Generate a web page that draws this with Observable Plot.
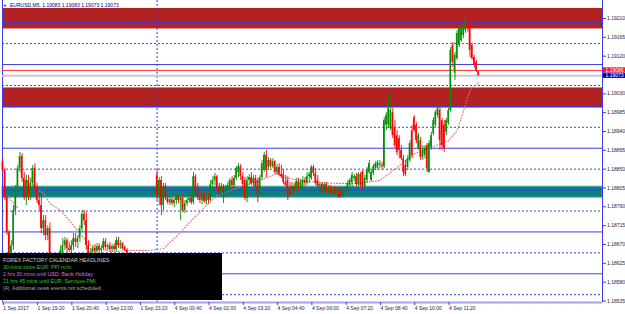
<!DOCTYPE html>
<html><head><meta charset="utf-8">
<script src="https://cdn.jsdelivr.net/npm/d3@7"></script>
<script src="https://cdn.jsdelivr.net/npm/@observablehq/plot@0.6"></script>
<style>
html,body{margin:0;padding:0;background:#fff;}
#chart{width:625px;height:314px;overflow:hidden;}
#chart svg{font-family:"Liberation Sans",Arial,sans-serif;font-size:5px;}
</style>
</head><body><div id="chart"></div>
<script>
// ---- data: EURUSD M5 bars, 1 Sep 2017 18:00 .. 4 Sep 2017 12:30 (bar index 0..222) ----
const opens = [
1.18866,1.18847,1.18782,1.18698,1.18627,1.18667,1.18751,1.18804,1.18852,1.18880,
1.18828,1.18782,1.18823,1.18787,1.18816,1.18852,1.18804,1.18775,1.18763,1.18708,
1.18727,1.18691,1.18708,1.18608,1.18620,1.18584,1.18620,1.18627,1.18636,1.18667,
1.18679,1.18660,1.18656,1.18667,1.18684,1.18675,1.18684,1.18708,1.18742,1.18727,
1.18667,1.18641,1.18651,1.18660,1.18653,1.18665,1.18656,1.18660,1.18677,1.18663,
1.18667,1.18658,1.18665,1.18658,1.18679,1.18667,1.18672,1.18663,1.18656,1.18636,
1.18644,1.18627,1.18636,1.18622,1.18629,1.18627,1.18617,1.18620,1.18603,1.18608,
1.18603,1.18622,1.18835,1.18787,1.18823,1.18763,1.18808,1.18780,1.18770,1.18777,
1.18768,1.18775,1.18785,1.18775,1.18780,1.18751,1.18768,1.18775,1.18780,1.18770,
1.18832,1.18799,1.18785,1.18775,1.18789,1.18773,1.18782,1.18775,1.18813,1.18823,
1.18832,1.18804,1.18794,1.18808,1.18794,1.18804,1.18799,1.18823,1.18811,1.18828,
1.18842,1.18856,1.18832,1.18823,1.18780,1.18823,1.18830,1.18816,1.18828,1.18823,
1.18792,1.18830,1.18847,1.18883,1.18854,1.18871,1.18856,1.18868,1.18842,1.18854,
1.18837,1.18837,1.18818,1.18823,1.18799,1.18789,1.18808,1.18799,1.18820,1.18804,
1.18804,1.18823,1.18816,1.18832,1.18828,1.18854,1.18840,1.18823,1.18808,1.18813,
1.18799,1.18813,1.18794,1.18806,1.18794,1.18804,1.18792,1.18804,1.18794,1.18787,
1.18799,1.18794,1.18811,1.18818,1.18828,1.18832,1.18813,1.18837,1.18844,1.18808,
1.18823,1.18842,1.18823,1.18840,1.18852,1.18852,1.18859,1.18859,1.18856,1.18955,
1.18955,1.18947,1.18985,1.18950,1.18930,1.18923,1.18895,1.18875,1.18859,1.18854,
1.18871,1.18942,1.18973,1.18955,1.18899,1.18918,1.18878,1.18883,1.18906,1.18842,
1.18902,1.18935,1.18955,1.18978,1.18990,1.18966,1.18955,1.18938,1.18959,1.18990,
1.19146,1.19079,1.19114,1.19146,1.19157,1.19169,1.19181,1.19200,1.19193,1.19146,
1.19117,1.19105,1.19083];
const highs = [
1.18875,1.18852,1.18787,1.18703,1.18679,1.18763,1.18811,1.18859,1.18890,1.18887,
1.18842,1.18835,1.18835,1.18828,1.18859,1.18863,1.18816,1.18794,1.18792,1.18739,
1.18739,1.18715,1.18722,1.18627,1.18632,1.18627,1.18636,1.18667,1.18684,1.18687,
1.18684,1.18675,1.18679,1.18696,1.18696,1.18691,1.18715,1.18751,1.18751,1.18746,
1.18679,1.18660,1.18667,1.18670,1.18672,1.18672,1.18667,1.18684,1.18684,1.18672,
1.18675,1.18670,1.18672,1.18687,1.18687,1.18679,1.18675,1.18667,1.18660,1.18651,
1.18648,1.18644,1.18641,1.18636,1.18634,1.18636,1.18627,1.18624,1.18617,1.18627,
1.18632,1.18627,1.18847,1.18830,1.18832,1.18816,1.18816,1.18787,1.18785,1.18782,
1.18780,1.18792,1.18787,1.18785,1.18785,1.18775,1.18780,1.18785,1.18787,1.18842,
1.18837,1.18816,1.18799,1.18794,1.18794,1.18787,1.18789,1.18823,1.18832,1.18840,
1.18835,1.18816,1.18816,1.18813,1.18811,1.18818,1.18828,1.18832,1.18835,1.18856,
1.18863,1.18861,1.18842,1.18830,1.18832,1.18837,1.18842,1.18835,1.18835,1.18828,
1.18835,1.18871,1.18890,1.18895,1.18878,1.18875,1.18875,1.18871,1.18861,1.18863,
1.18859,1.18847,1.18835,1.18832,1.18818,1.18818,1.18816,1.18828,1.18828,1.18825,
1.18832,1.18830,1.18842,1.18842,1.18859,1.18859,1.18852,1.18835,1.18818,1.18818,
1.18818,1.18818,1.18811,1.18811,1.18804,1.18808,1.18806,1.18808,1.18806,1.18804,
1.18808,1.18823,1.18828,1.18842,1.18837,1.18840,1.18842,1.18842,1.18847,1.18835,
1.18854,1.18871,1.18847,1.18861,1.18868,1.18871,1.18871,1.18866,1.18973,1.18985,
1.19031,1.19002,1.18995,1.18966,1.18942,1.18930,1.18906,1.18883,1.18871,1.18883,
1.18918,1.18955,1.18978,1.18961,1.18935,1.18926,1.18906,1.18906,1.18911,1.18918,
1.18938,1.18973,1.18990,1.19007,1.18997,1.18971,1.18966,1.18971,1.18995,1.19141,
1.19153,1.19129,1.19181,1.19193,1.19198,1.19198,1.19215,1.19210,1.19205,1.19150,
1.19122,1.19110,1.19083];
const lows = [
1.18842,1.18775,1.18691,1.18577,1.18608,1.18656,1.18739,1.18794,1.18842,1.18818,
1.18775,1.18763,1.18775,1.18775,1.18804,1.18799,1.18768,1.18751,1.18696,1.18691,
1.18679,1.18679,1.18584,1.18596,1.18572,1.18577,1.18608,1.18620,1.18627,1.18656,
1.18651,1.18651,1.18648,1.18656,1.18663,1.18660,1.18675,1.18698,1.18715,1.18656,
1.18627,1.18632,1.18636,1.18648,1.18646,1.18651,1.18644,1.18656,1.18656,1.18656,
1.18651,1.18651,1.18653,1.18653,1.18660,1.18658,1.18656,1.18653,1.18627,1.18627,
1.18620,1.18617,1.18617,1.18613,1.18608,1.18584,1.18589,1.18596,1.18591,1.18598,
1.18596,1.18608,1.18775,1.18763,1.18739,1.18751,1.18775,1.18765,1.18763,1.18763,
1.18758,1.18765,1.18768,1.18727,1.18746,1.18744,1.18761,1.18768,1.18765,1.18765,
1.18787,1.18775,1.18768,1.18765,1.18768,1.18765,1.18768,1.18773,1.18804,1.18811,
1.18799,1.18787,1.18787,1.18768,1.18785,1.18794,1.18794,1.18804,1.18806,1.18823,
1.18830,1.18823,1.18804,1.18775,1.18770,1.18811,1.18811,1.18808,1.18804,1.18770,
1.18787,1.18823,1.18842,1.18830,1.18847,1.18852,1.18852,1.18837,1.18835,1.18832,
1.18828,1.18813,1.18808,1.18775,1.18782,1.18785,1.18792,1.18794,1.18799,1.18799,
1.18799,1.18808,1.18811,1.18816,1.18823,1.18832,1.18811,1.18804,1.18792,1.18792,
1.18794,1.18792,1.18789,1.18789,1.18789,1.18789,1.18787,1.18780,1.18782,1.18782,
1.18789,1.18789,1.18806,1.18808,1.18820,1.18808,1.18808,1.18804,1.18801,1.18804,
1.18816,1.18837,1.18820,1.18835,1.18847,1.18847,1.18852,1.18847,1.18852,1.18942,
1.18947,1.18942,1.18923,1.18899,1.18883,1.18875,1.18871,1.18832,1.18832,1.18847,
1.18866,1.18875,1.18938,1.18911,1.18895,1.18871,1.18871,1.18875,1.18842,1.18840,
1.18895,1.18930,1.18950,1.18971,1.18895,1.18895,1.18890,1.18930,1.18955,1.18985,
1.19093,1.19062,1.19110,1.19141,1.19153,1.19162,1.19174,1.19177,1.19117,1.19110,
1.19091,1.19081,1.19073];
const closes = [
1.18847,1.18782,1.18698,1.18627,1.18667,1.18751,1.18804,1.18852,1.18880,1.18828,
1.18782,1.18823,1.18787,1.18816,1.18852,1.18804,1.18775,1.18763,1.18708,1.18727,
1.18691,1.18708,1.18608,1.18620,1.18584,1.18620,1.18627,1.18656,1.18667,1.18679,
1.18660,1.18656,1.18667,1.18684,1.18675,1.18684,1.18708,1.18742,1.18727,1.18667,
1.18641,1.18651,1.18660,1.18653,1.18665,1.18656,1.18660,1.18677,1.18663,1.18667,
1.18658,1.18665,1.18658,1.18679,1.18667,1.18672,1.18660,1.18656,1.18636,1.18644,
1.18627,1.18636,1.18622,1.18629,1.18615,1.18593,1.18598,1.18603,1.18613,1.18622,
1.18622,1.18615,1.18787,1.18823,1.18763,1.18808,1.18780,1.18770,1.18777,1.18768,
1.18775,1.18785,1.18775,1.18780,1.18751,1.18768,1.18775,1.18780,1.18770,1.18832,
1.18799,1.18785,1.18775,1.18789,1.18773,1.18782,1.18775,1.18813,1.18823,1.18832,
1.18804,1.18794,1.18808,1.18794,1.18804,1.18811,1.18823,1.18811,1.18828,1.18852,
1.18856,1.18832,1.18813,1.18780,1.18823,1.18830,1.18816,1.18828,1.18808,1.18792,
1.18830,1.18863,1.18883,1.18847,1.18871,1.18856,1.18868,1.18842,1.18854,1.18837,
1.18832,1.18818,1.18811,1.18787,1.18789,1.18808,1.18799,1.18820,1.18804,1.18818,
1.18823,1.18816,1.18832,1.18837,1.18854,1.18840,1.18816,1.18808,1.18813,1.18799,
1.18813,1.18794,1.18804,1.18794,1.18799,1.18792,1.18799,1.18782,1.18787,1.18799,
1.18794,1.18816,1.18823,1.18835,1.18832,1.18813,1.18837,1.18811,1.18808,1.18828,
1.18847,1.18863,1.18842,1.18856,1.18863,1.18866,1.18863,1.18856,1.18966,1.18978,
1.18995,1.18990,1.18930,1.18906,1.18890,1.18895,1.18875,1.18842,1.18837,1.18875,
1.18911,1.18883,1.18942,1.18918,1.18930,1.18878,1.18895,1.18899,1.18852,1.18911,
1.18930,1.18966,1.18985,1.18995,1.18918,1.18906,1.18899,1.18966,1.18990,1.19134,
1.19105,1.19122,1.19174,1.19186,1.19186,1.19191,1.19205,1.19186,1.19134,1.19114,
1.19098,1.19086,1.19073];

// moving-average dotted line (bar index, price)
const maIdx = [17,19,22,27,30,35,40,43,48,53,57,62,68,75,81,88,94,100,110,120,128,131,139,148,156,166,176,184,192,200,208,212,215,218,222];
const maVal = [1.18799,1.18792,1.18768,1.18751,1.18734,1.18703,1.18672,1.18660,1.18656,1.18653,1.18656,1.18656,1.18656,1.18660,1.18689,1.18727,1.18758,1.18787,1.18806,1.18823,1.18840,1.18830,1.18823,1.18818,1.18816,1.18816,1.18823,1.18854,1.18887,1.18902,1.18918,1.18942,1.18990,1.19038,1.19057];
const maIdxEarly = [2,4,7];
const maValEarly = [1.18787,1.18775,1.18758];

// zones
const zoneTop = [1.19234, 1.19044, 1.18808];
const zoneBottom = [1.19185, 1.18996, 1.18782];
const zoneColor = ["#b22222", "#b22222", "#0a8080"];

// level lines
const solidLevels = [1.1860,1.1870,1.1880,1.1890,1.1900,1.1910,1.1920];
const dottedLevels = [1.1855,1.1865,1.1875,1.1885,1.1895,1.1905,1.1915];
const daySeparators = [72];

// price axis ticks
const yTicks = [1.19210,1.19165,1.19120,1.19030,1.18985,1.18940,1.18895,1.18850,1.18805,1.18760,1.18715,1.18670,1.18625,1.18580,1.18535];
// time axis ticks
const xTickIdx = [0,16,32,48,64,80,96,112,128,144,160,176,192,208];
const xTickLabels = ["1 Sep 2017","1 Sep 19:20","1 Sep 20:40","1 Sep 22:00","1 Sep 23:20","4 Sep 00:40","4 Sep 02:00","4 Sep 03:20","4 Sep 04:40","4 Sep 06:00","4 Sep 07:20","4 Sep 08:40","4 Sep 10:00","4 Sep 11:20"];

const askPrice = 1.19086;
const bidPrice = 1.19073;
const headerText = "EURUSD,M5  1.19083 1.19083 1.19073 1.19073";
const newsLines = ["FOREX FACTORY CALENDAR HEADLINES","30 mins since EUR: PPI m/m","2 hrs 30 mins until USD: Bank Holiday","21 hrs 45 mins until EUR: Services PMI","(4)  Additional news events not scheduled"];
const newsColors = ["#cfcfcf","#39c739","#d070f0","#39c739","#a8a8a8"];

// ---- chart ----
const xDomain = [-0.14, 279.84];
const yDomain = [1.185314, 1.19253];
const bars = opens.map((o, i) => ({i, o, h: highs[i], l: lows[i], c: closes[i]}));
const bull = bars.filter(d => d.c >= d.o);
const bear = bars.filter(d => d.c < d.o);
const zones = zoneTop.map((t, k) => ({t, b: zoneBottom[k], col: zoneColor[k]}));
const ma = maIdx.map((x, k) => ({x, y: maVal[k]}));
const maEarly = maIdxEarly.map((x, k) => ({x, y: maValEarly[k]}));
const BULL = "#009000", BEAR = "#ff0000", BLUE = "#3c3ce6";
const hw = 0.36;

const chart = Plot.plot({
  width: 625, height: 314,
  marginLeft: 2, marginRight: 23, marginTop: 0, marginBottom: 12,
  x: {domain: xDomain},
  y: {domain: yDomain},
  style: {background: "#fff", fontSize: "5px", fontFamily: "Liberation Sans, Arial, sans-serif", overflow: "visible"},
  marks: [
    Plot.rect(zones.filter(z => z.col !== "#0a8080"), {y1: "t", y2: "b", fill: "col"}),
    Plot.rect(zones.filter(z => z.col === "#0a8080"), {y1: "t", y2: "b", fill: "#0a8080", stroke: "#45a5a5", strokeWidth: 1}),
    Plot.ruleY(solidLevels, {stroke: BLUE, strokeWidth: 1}),
    Plot.ruleY(dottedLevels, {stroke: BLUE, strokeWidth: 1, strokeDasharray: "2,2"}),
    Plot.ruleX(daySeparators, {stroke: BLUE, strokeWidth: 1, strokeDasharray: "2,2"}),
    Plot.ruleX(xDomain, {stroke: BLUE, strokeWidth: 1}),
    Plot.ruleY([yDomain[0]], {stroke: "#a4a4f0", strokeWidth: 2}),
    Plot.ruleY([bidPrice], {stroke: "#c8c8c8", strokeWidth: 2, ariaLabel: "bidline"}),
    Plot.ruleY([askPrice], {stroke: "#ff3030", strokeWidth: 1}),
    Plot.line(ma, {x: "x", y: "y", stroke: "#e07070", strokeWidth: 1.1, strokeDasharray: "1,2"}),
    Plot.line(maEarly, {x: "x", y: "y", stroke: "#e07070", strokeWidth: 1.1, strokeDasharray: "1,2"}),
    Plot.ruleX(bull, {x: "i", y1: "l", y2: "h", stroke: BULL, strokeWidth: 0.9}),
    Plot.ruleX(bear, {x: "i", y1: "l", y2: "h", stroke: BEAR, strokeWidth: 0.9}),
    Plot.rect(bull, {x1: d => d.i - hw, x2: d => d.i + hw, y1: "o", y2: "c", fill: BULL}),
    Plot.rect(bear, {x1: d => d.i - hw, x2: d => d.i + hw, y1: "o", y2: "c", fill: BEAR}),
    Plot.axisY(yTicks, {anchor: "right", tickSize: 3, tickPadding: 1.5, tickFormat: d => d.toFixed(5), stroke: BLUE, fill: "#1c1c4c"}),
    Plot.axisX(xTickIdx, {anchor: "bottom", tickSize: 3, tickPadding: 1, tickFormat: d => xTickLabels[xTickIdx.indexOf(d)], textAnchor: "start", dx: 0.5, stroke: BLUE, fill: "#1c1c4c"})
  ]
});
document.getElementById("chart").appendChild(chart);

// news panel beneath the candles
const refNode = chart.querySelector('g[aria-label="bidline"]');
const newsBox = d3.create("svg:g").attr("font-size", 5.3).attr("text-anchor", "start");
newsBox.append("rect").attr("x", 0).attr("y", 253).attr("width", 222).attr("height", 47).attr("fill", "#000");
newsLines.forEach((t, k) => newsBox.append("text").attr("x", 3).attr("y", 261.6 + k * 7.1).attr("fill", newsColors[k]).attr("text-anchor", "start").text(t));
if (refNode) chart.insertBefore(newsBox.node(), refNode); else chart.appendChild(newsBox.node());

// header
const svgSel = d3.select(chart);
const headerG = svgSel.append("g").attr("text-anchor", "start");
headerG.append("text").attr("x", 3).attr("y", 6.8).attr("font-size", 4).attr("fill", "#000080").attr("text-anchor", "start").text("▼");
headerG.append("text").attr("x", 10).attr("y", 6.8).attr("font-size", 5).attr("fill", "#000080").attr("text-anchor", "start").text(headerText);

// price labels on the axis
const yScale = chart.scale("y");
const tagG = svgSel.append("g").attr("text-anchor", "start");
[[askPrice, "#ff1a1a"], [bidPrice, "#0000cc"]].forEach(([p, col]) => {
  const yy = yScale.apply(p);
  tagG.append("rect").attr("x", 603).attr("y", yy - 2.6).attr("width", 22).attr("height", 5.2).attr("fill", col);
  tagG.append("text").attr("x", 605.5).attr("y", yy + 1.8).attr("font-size", 5).attr("fill", "#fff").attr("text-anchor", "start").text(p.toFixed(5));
});
</script>
</body></html>
